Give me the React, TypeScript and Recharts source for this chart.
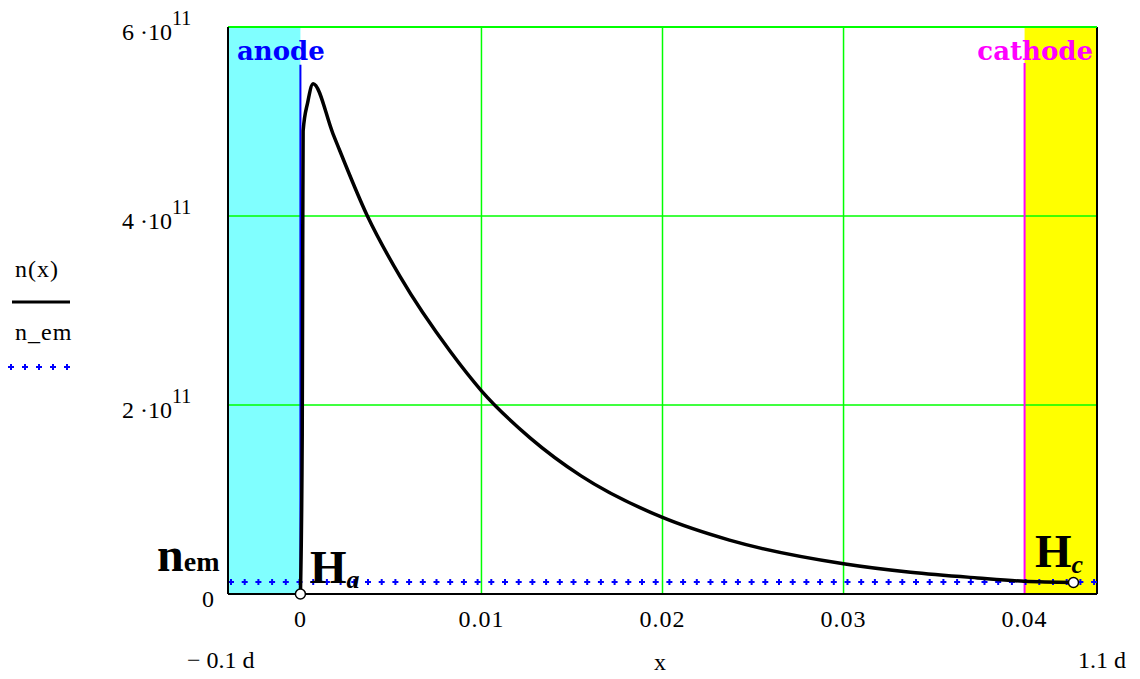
import React from 'react';
import { LineChart, Line, XAxis, YAxis, ReferenceArea, ReferenceLine, ReferenceDot } from 'recharts';

// electron density n(x) across the gap, d = 0.04
const curveX = [0, 0.0001, 0.00013, 0.00015, 0.0004, 0.0007, 0.0018, 0.0037, 0.0055, 0.0083, 0.01, 0.0127, 0.0155, 0.02, 0.0237, 0.03, 0.0337, 0.0374, 0.04, 0.0427];
const curveN = [0, 1.7e11, 3.85e11, 4.9e11, 5.2e11, 5.4e11, 4.87e11, 4.0e11, 3.36e11, 2.56e11, 2.15e11, 1.65e11, 1.25e11, 0.81e11, 0.57e11, 0.32e11, 0.23e11, 0.17e11, 0.135e11, 0.122e11];

const nEm = 1.27e10;
const xRange = [-0.004, 0.044]; // -0.1 d .. 1.1 d
const xTicks = [0, 0.01, 0.02, 0.03, 0.04];
const yTicks = [0, 2e11, 4e11, 6e11];
const anodeX = 0;
const cathodeX = 0.04;
const trace = [{ x: 0, y: 0 }, { x: 0.0427, y: 1.22e10 }];

const curve = curveX.map((x, i) => ({ x, n: curveN[i] }));
const emLine = xRange.map((x) => ({ x, n: nEm }));

const serif = '"Liberation Serif", "Times New Roman", serif';
const GREEN = '#00ff00';

const YTick = ({ y, payload }: any) => {
  const v = payload.value;
  if (v === 0) {
    return <text x={206} y={y + 13} textAnchor="end" fontFamily={serif} fontSize={24} fill="#000">0</text>;
  }
  return (
    <text x={114} y={y + 13} fontFamily={serif} fontSize={24} fill="#000">
      <tspan>{v / 1e11} ·10</tspan>
      <tspan dy={-15} fontSize={20}>11</tspan>
    </text>
  );
};

const XTick = ({ x, payload }: any) => (
  <text x={x} y={619} textAnchor="middle" fontFamily={serif} fontSize={24} letterSpacing={1} fill="#000">
    {payload.value}
  </text>
);

export default function App() {
  return (
    <div style={{ position: 'relative', width: 1124, height: 663 }}>
      <LineChart width={1124} height={663} margin={{ top: 19, right: 35, bottom: 0, left: 0 }} style={{ overflow: 'visible' }}>
        <XAxis
          dataKey="x"
          type="number"
          domain={xRange}
          ticks={xTicks}
          allowDataOverflow
          height={77}
          tickLine={false}
          axisLine={{ stroke: '#000', strokeWidth: 2 }}
          tick={<XTick />}
          interval={0}
        />
        <YAxis
          type="number"
          domain={[0, 6e11]}
          ticks={yTicks}
          width={220}
          tickLine={false}
          axisLine={{ stroke: '#000', strokeWidth: 2 }}
          tick={<YTick />}
          interval={0}
        />
        <ReferenceArea x1={xRange[0]} x2={anodeX} y1={0} y2={6e11} fill="#80ffff" fillOpacity={1} stroke="none" />
        <ReferenceArea x1={cathodeX} x2={xRange[1]} y1={0} y2={6e11} fill="#ffff00" fillOpacity={1} stroke="none" />
        {[0.01, 0.02, 0.03].map((v) => (
          <ReferenceLine key={'gx' + v} x={v} stroke={GREEN} strokeWidth={1.5} />
        ))}
        {[2e11, 4e11].map((v) => (
          <ReferenceLine key={'gy' + v} y={v} stroke={GREEN} strokeWidth={1.5} />
        ))}
        <ReferenceLine x={xRange[1]} stroke="#000" strokeWidth={2} />
        <ReferenceLine y={6e11} stroke={GREEN} strokeWidth={2} />
        <ReferenceLine segment={[{ x: anodeX, y: 5.6e11 }, { x: anodeX, y: 0 }]} stroke="#0000ff" strokeWidth={2} />
        <ReferenceLine segment={[{ x: cathodeX, y: 5.62e11 }, { x: cathodeX, y: 0 }]} stroke="#ff00ff" strokeWidth={2} />
        <Line data={emLine} dataKey="n" stroke="#0000ff" strokeWidth={2} strokeDasharray="6 7.7" dot={false} isAnimationActive={false} />
        <Line data={emLine} dataKey="n" stroke="#0000ff" strokeWidth={6} strokeDasharray="2 11.7" strokeDashoffset={-2} dot={false} isAnimationActive={false} />
        <Line data={curve} dataKey="n" type="monotone" stroke="#000" strokeWidth={3.5} dot={false} isAnimationActive={false} />
        {trace.map((p, i) => (
          <ReferenceDot key={i} x={p.x} y={p.y} r={5} fill="#fff" stroke="#000" strokeWidth={1.5} />
        ))}
      </LineChart>
      <svg width={1124} height={671} style={{ position: 'absolute', left: 0, top: 0, pointerEvents: 'none', overflow: 'visible' }}>
        <text x={229} y={52} fontFamily='"DejaVu Serif", serif' fontWeight="bold" fontSize={26} fill="#0000ff">anode</text>
        <text x={1085} y={52} textAnchor="end" fontFamily='"DejaVu Serif", serif' fontWeight="bold" fontSize={26} fill="#ff00ff">cathode</text>

        <text x={7} y={269} fontFamily={serif} fontSize={24} letterSpacing={1} fill="#000">n(x)</text>
        <line x1={4} x2={62} y1={294} y2={294} stroke="#000" strokeWidth={3} />
        <text x={7} y={332} fontFamily={serif} fontSize={24} letterSpacing={1} fill="#000">n_em</text>
        <line x1={0} x2={64} y1={359} y2={359} stroke="#0000ff" strokeWidth={2} strokeDasharray="6 8" />
        <line x1={0} x2={64} y1={359} y2={359} stroke="#0000ff" strokeWidth={6} strokeDasharray="2 12" strokeDashoffset={-2} />

        <text x={149} y={563} fontFamily={serif} fontWeight="bold" fontSize={48} fill="#000">
          n<tspan fontSize={28}>em</tspan>
        </text>
        <text x={302} y={575} fontFamily={serif} fontWeight="bold" fontSize={47} fill="#000">
          H<tspan dy={5} fontSize={26} fontStyle="italic">a</tspan>
        </text>
        <text x={1027} y={559} fontFamily={serif} fontWeight="bold" fontSize={47} fill="#000">
          H<tspan dy={6} fontSize={26} fontStyle="italic">c</tspan>
        </text>

        <text x={179} y={660} fontFamily={serif} fontSize={24} fill="#000">− 0.1 d</text>
        <text x={652} y={662} textAnchor="middle" fontFamily={serif} fontSize={24} fill="#000">x</text>
        <text x={1070} y={660} fontFamily={serif} fontSize={24} fill="#000">1.1 d</text>
      </svg>
    </div>
  );
}
